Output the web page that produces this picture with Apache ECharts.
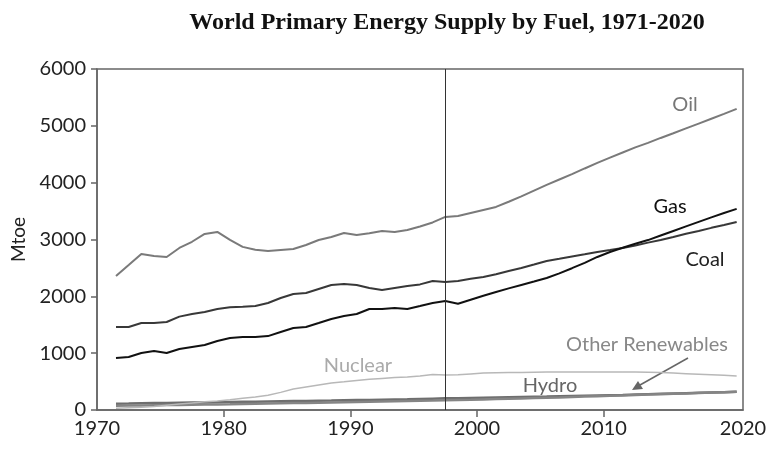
<!DOCTYPE html>
<html>
<head>
<meta charset="utf-8">
<script src="https://cdn.jsdelivr.net/npm/echarts@6/dist/echarts.min.js"></script>
<style>
  html, body { margin: 0; padding: 0; background: #fff; }
  #chart { width: 772px; height: 452px; }
</style>
</head>
<body>
<div id="chart"></div>
<script>
// years of the series, 1971-2020 (1998 on = projection)
const years = [1971, 1972, 1973, 1974, 1975, 1976, 1977, 1978, 1979, 1980,
  1981, 1982, 1983, 1984, 1985, 1986, 1987, 1988, 1989, 1990,
  1991, 1992, 1993, 1994, 1995, 1996, 1997, 1998, 1999, 2000,
  2001, 2002, 2003, 2004, 2005, 2006, 2007, 2008, 2009, 2010,
  2011, 2012, 2013, 2014, 2015, 2016, 2017, 2018, 2019, 2020];

// Mtoe
const oil = [2358, 2550, 2746, 2710, 2693, 2851, 2960, 3098, 3133, 2992,
  2870, 2820, 2798, 2816, 2834, 2904, 2992, 3045, 3115, 3080,
  3110, 3150, 3133, 3168, 3230, 3300, 3397, 3414, 3467, 3520,
  3573, 3665, 3760, 3860, 3960, 4055, 4150, 4250, 4347, 4440,
  4530, 4620, 4700, 4787, 4870, 4955, 5040, 5125, 5210, 5298];
const coal = [1461, 1461, 1531, 1531, 1549, 1643, 1690, 1725, 1778, 1807,
  1818, 1830, 1883, 1971, 2042, 2060, 2130, 2200, 2218, 2200,
  2147, 2112, 2147, 2182, 2210, 2270, 2253, 2270, 2310, 2341,
  2390, 2445, 2500, 2560, 2622, 2660, 2700, 2740, 2781, 2815,
  2851, 2895, 2945, 2992, 3045, 3100, 3150, 3205, 3255, 3309];
const gas = [915, 933, 1003, 1038, 1003, 1074, 1109, 1144, 1214, 1267,
  1284, 1284, 1300, 1373, 1443, 1461, 1531, 1602, 1654, 1690,
  1778, 1778, 1795, 1778, 1830, 1883, 1918, 1870, 1940, 2010,
  2077, 2140, 2200, 2260, 2323, 2405, 2495, 2590, 2693, 2780,
  2855, 2925, 2990, 3070, 3150, 3230, 3310, 3390, 3465, 3538];
const nuclear = [30, 40, 50, 62, 85, 105, 125, 145, 160, 180,
  205, 230, 260, 310, 370, 405, 440, 475, 495, 520,
  540, 555, 570, 580, 600, 625, 615, 620, 635, 650,
  655, 660, 662, 665, 668, 670, 670, 670, 669, 669,
  668, 668, 665, 660, 650, 640, 630, 620, 610, 598];
const hydro = [110, 113, 117, 121, 124, 127, 130, 133, 137, 140,
  143, 146, 150, 154, 157, 160, 163, 166, 170, 174,
  178, 182, 186, 190, 195, 200, 205, 208, 212, 216,
  220, 224, 228, 232, 236, 241, 246, 251, 256, 261,
  266, 272, 278, 284, 290, 296, 302, 308, 314, 320];
const otherRenew = [75, 78, 80, 83, 86, 89, 92, 95, 98, 101,
  105, 109, 113, 117, 121, 125, 129, 133, 137, 141,
  145, 149, 153, 157, 161, 165, 170, 175, 180, 186,
  192, 198, 204, 210, 216, 222, 229, 236, 243, 250,
  257, 264, 271, 278, 285, 292, 299, 306, 313, 320];

const xLabels = [1970, 1980, 1990, 2000, 2010, 2021];
const projectionStart = 1997.5;

const sans = 'Lato, "Open Sans", sans-serif';

// annual values drawn at mid-year
function pairs(vals) {
  return years.map((y, i) => [y + 0.5, vals[i]]);
}

function line(name, vals, color, width) {
  return {
    name: name,
    type: 'line',
    data: pairs(vals),
    showSymbol: false,
    symbol: 'none',
    lineStyle: { color: color, width: width },
    z: 3
  };
}

const chart = echarts.init(document.getElementById('chart'));

const series = [
  line('Hydro', hydro, '#6e6e6e', 2.5),
  line('Other Renewables', otherRenew, '#858585', 2.5),
  line('Nuclear', nuclear, '#b8b8b8', 1.5),
  line('Coal', coal, '#383838', 2),
  line('Gas', gas, '#111111', 2),
  line('Oil', oil, '#7a7a7a', 2)
];
series[5].markLine = {
  silent: true,
  symbol: ['none', 'none'],
  label: { show: false },
  lineStyle: { color: '#333', width: 1, type: 'solid' },
  data: [{ xAxis: projectionStart }]
};

const option = {
  backgroundColor: '#fff',
  animation: false,
  title: {
    text: 'World Primary Energy Supply by Fuel, 1971-2020',
    left: 442,
    top: 6,
    textAlign: 'center',
    textStyle: {
      fontFamily: '"Liberation Serif", serif',
      fontWeight: 'bold',
      fontSize: 24,
      color: '#111'
    }
  },
  grid: {
    left: 97, top: 69, right: 29, bottom: 42,
    show: true, borderColor: '#666', borderWidth: 1.5
  },
  xAxis: {
    type: 'value',
    min: 1970,
    max: 2021,
    splitLine: { show: false },
    axisLine: { show: true, lineStyle: { color: '#666', width: 1.5 } },
    axisTick: { show: true, length: 7, customValues: [1980, 1990, 2000, 2010],
      lineStyle: { color: '#666', width: 1.5 } },
    axisLabel: {
      customValues: xLabels,
      formatter: v => (v === 2021 ? '2020' : String(v)),
      color: '#222', fontSize: 20, fontFamily: sans, margin: 9
    }
  },
  yAxis: {
    type: 'value',
    name: 'Mtoe',
    nameLocation: 'middle',
    nameGap: 66,
    nameRotate: 90,
    nameTextStyle: { color: '#222', fontSize: 19, fontFamily: sans },
    min: 0,
    max: 6000,
    interval: 1000,
    splitLine: { show: false },
    axisLine: { show: true, lineStyle: { color: '#666', width: 1.5 } },
    axisTick: { show: true, length: 6, lineStyle: { color: '#666', width: 1.5 } },
    axisLabel: {
      formatter: v => String(v),
      color: '#222', fontSize: 20, fontFamily: sans, margin: 11
    }
  },
  series: series,
  graphic: [
    { type: 'text', x: 685, y: 105, style: { text: 'Oil', fill: '#777', font: '20px ' + sans, textAlign: 'center', textVerticalAlign: 'middle' } },
    { type: 'text', x: 670, y: 207, style: { text: 'Gas', fill: '#111', font: '20px ' + sans, textAlign: 'center', textVerticalAlign: 'middle' } },
    { type: 'text', x: 705, y: 260, style: { text: 'Coal', fill: '#222', font: '20px ' + sans, textAlign: 'center', textVerticalAlign: 'middle' } },
    { type: 'text', x: 647, y: 345, style: { text: 'Other Renewables', fill: '#888', font: '20px ' + sans, textAlign: 'center', textVerticalAlign: 'middle' } },
    { type: 'text', x: 358, y: 366, style: { text: 'Nuclear', fill: '#aaa', font: '20px ' + sans, textAlign: 'center', textVerticalAlign: 'middle' } },
    { type: 'text', x: 550, y: 386, style: { text: 'Hydro', fill: '#666', font: '20px ' + sans, textAlign: 'center', textVerticalAlign: 'middle' } },
    // arrow to the other renewables line
    { type: 'line', shape: { x1: 688, y1: 358, x2: 640, y2: 385 }, style: { stroke: '#666', lineWidth: 1.5 } },
    { type: 'polygon', shape: { points: [[632, 390], [643, 389], [638, 381]] }, style: { fill: '#666' } }
  ]
};

chart.setOption(option);
</script>
</body>
</html>
